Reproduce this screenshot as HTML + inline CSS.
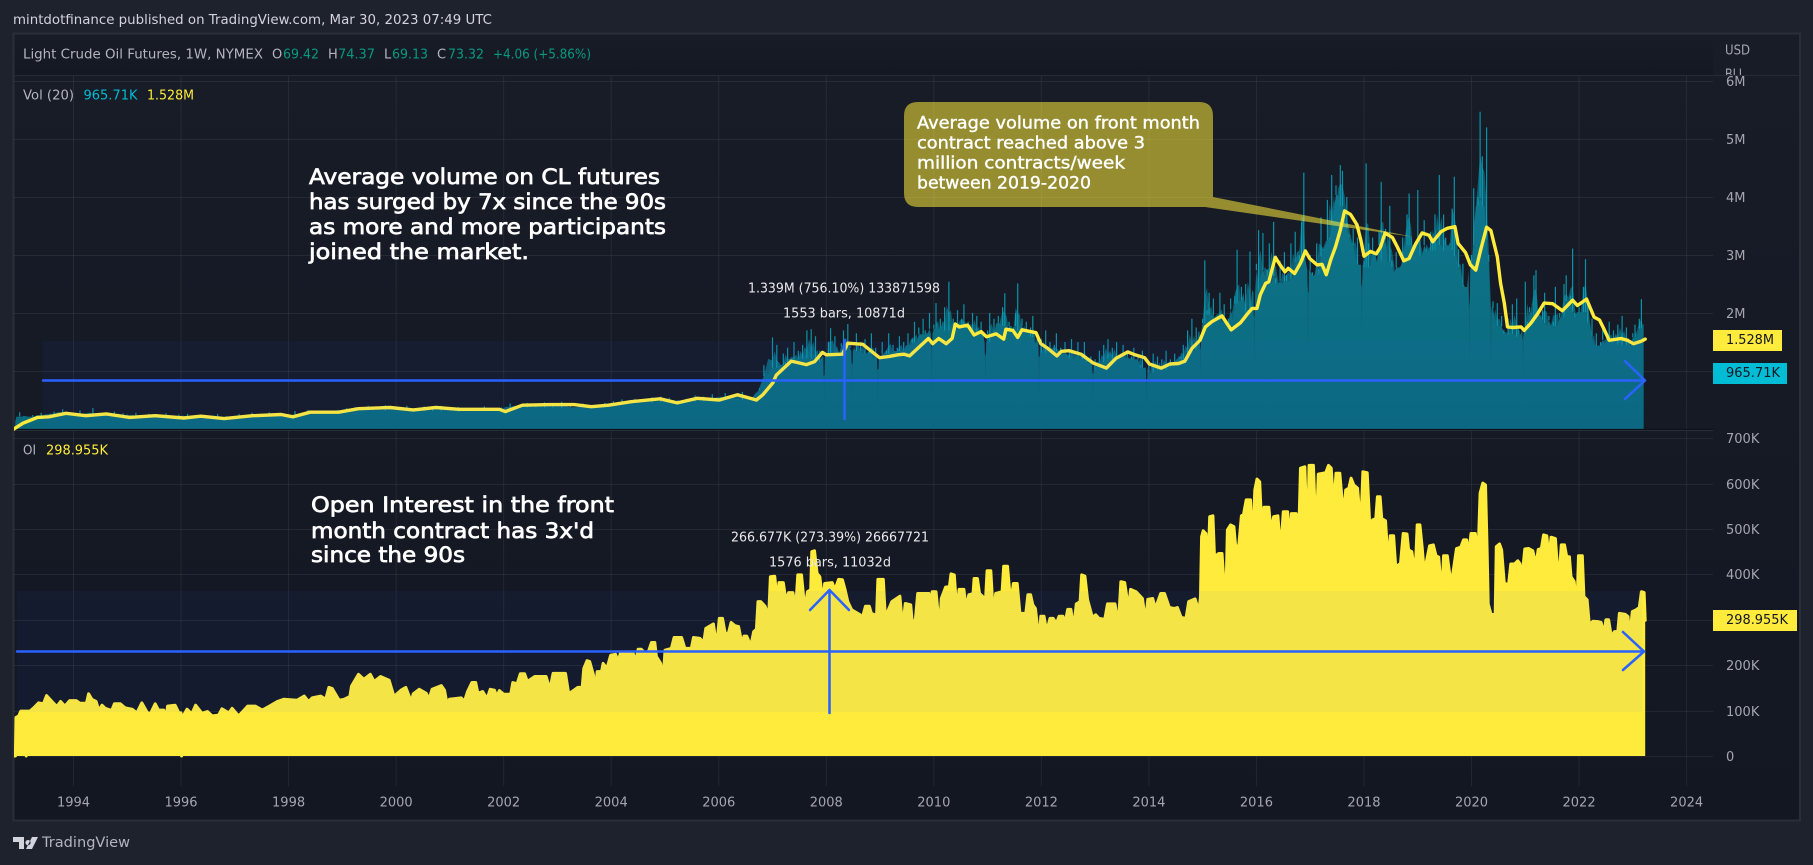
<!DOCTYPE html>
<html lang="en">
<head>
<meta charset="utf-8">
<title>Light Crude Oil Futures volume and open interest</title>
<style>
html,body{margin:0;padding:0;background:#1e222d;width:1813px;height:865px;overflow:hidden}
svg{display:block}
text{font-family:"DejaVu Sans","Liberation Sans",sans-serif;dominant-baseline:central}
.ax{fill:#a3a6af;font-size:13px}
.lg{font-size:13px;fill:#b2b5be}
.an{font-size:21px;fill:#fff;stroke:#fff;stroke-width:.7px}
.cl{font-size:16.5px;fill:#fff;stroke:#fff;stroke-width:.4px}
.ms{font-size:13px;fill:#e8e8ea}
.gr{fill:#089981}
.tag{font-size:13px;fill:#131722}
</style>
</head>
<body>
<svg id="chart" xmlns="http://www.w3.org/2000/svg" width="1813" height="865" viewBox="0 0 1813 865">
<defs>
<linearGradient id="paneBg" x1="0" y1="0" x2="0" y2="1"><stop offset="0" stop-color="#181c27"/><stop offset="1" stop-color="#131722"/></linearGradient>
<linearGradient id="topBg" x1="0" y1="0" x2="0" y2="1"><stop offset="0" stop-color="#181c27"/><stop offset="1" stop-color="#141823"/></linearGradient>
<linearGradient id="volFill" gradientUnits="userSpaceOnUse" x1="0" y1="110" x2="0" y2="429"><stop offset="0" stop-color="#0e7f97"/><stop offset="0.5" stop-color="#0d7186"/><stop offset="1" stop-color="#0b697c"/></linearGradient>
<clipPath id="bllClip"><rect x="1713" y="33" width="87" height="42"/></clipPath>
<clipPath id="plotClip"><rect x="14" y="75" width="1699" height="711"/></clipPath>
</defs>

<rect x="0" y="0" width="1813" height="865" fill="#1e222d"/>
<text x="13" y="20" font-size="13.5" fill="#d1d4dc" textLength="479" lengthAdjust="spacingAndGlyphs">mintdotfinance published on TradingView.com, Mar 30, 2023 07:49 UTC</text>
<rect x="13.5" y="33.5" width="1786.5" height="787" fill="url(#paneBg)" stroke="#2a2e39" stroke-width="2"/>
<rect x="14.5" y="34.5" width="1698.5" height="40.5" fill="url(#topBg)"/>
<line x1="14" y1="75.5" x2="1800" y2="75.5" stroke="#262a35" stroke-width="1"/>

<g id="gridLayer"></g>
<g id="seriesLayer" clip-path="url(#plotClip)"></g>

<rect x="43" y="341" width="1600" height="88" fill="#2962ff" fill-opacity="0.05"/>
<rect x="17" y="591" width="1625" height="121" fill="#2962ff" fill-opacity="0.05"/>

<g stroke="#2962ff" stroke-width="2.5" fill="none" stroke-linecap="round" stroke-linejoin="round">
<line x1="43" y1="380.5" x2="1644" y2="380.5"/>
<line x1="844.5" y1="340" x2="844.5" y2="419"/>
<polyline points="1625,361 1645,380.5 1625,399"/>
</g>
<g stroke="#2962ff" stroke-width="2.5" fill="none" stroke-linecap="round" stroke-linejoin="round">
<line x1="17" y1="651.5" x2="1644" y2="651.5"/>
<line x1="829.5" y1="590" x2="829.5" y2="713"/>
<polyline points="1623,632 1644,651.5 1623,670"/>
<polyline points="810,610 829.5,590 849,610"/>
</g>

<text class="ms" x="748" y="289" textLength="192" lengthAdjust="spacingAndGlyphs">1.339M (756.10%) 133871598</text>
<text class="ms" x="783" y="314" textLength="122" lengthAdjust="spacingAndGlyphs">1553 bars, 10871d</text>
<text class="ms" x="731" y="538" textLength="198" lengthAdjust="spacingAndGlyphs">266.677K (273.39%) 26667721</text>
<text class="ms" x="769" y="563" textLength="122" lengthAdjust="spacingAndGlyphs">1576 bars, 11032d</text>

<g>
<text class="an" x="309" y="177" textLength="351" lengthAdjust="spacingAndGlyphs">Average volume on CL futures</text>
<text class="an" x="309" y="202" textLength="357" lengthAdjust="spacingAndGlyphs">has surged by 7x since the 90s</text>
<text class="an" x="309" y="227" textLength="357" lengthAdjust="spacingAndGlyphs">as more and more participants</text>
<text class="an" x="309" y="252" textLength="220" lengthAdjust="spacingAndGlyphs">joined the market.</text>
</g>
<g>
<text class="an" x="311" y="505" textLength="303" lengthAdjust="spacingAndGlyphs">Open Interest in the front</text>
<text class="an" x="311" y="531" textLength="283" lengthAdjust="spacingAndGlyphs">month contract has 3x'd</text>
<text class="an" x="311" y="555" textLength="154" lengthAdjust="spacingAndGlyphs">since the 90s</text>
</g>

<g>
<path d="M918 102H1199Q1213 102 1213 116V197L1414 237L1205 207H918Q904 207 904 193V116Q904 102 918 102Z" fill="#ffeb3b" fill-opacity="0.55"/>
<text class="cl" x="917" y="123" textLength="283" lengthAdjust="spacingAndGlyphs">Average volume on front month</text>
<text class="cl" x="917" y="143" textLength="228" lengthAdjust="spacingAndGlyphs">contract reached above 3</text>
<text class="cl" x="917" y="163" textLength="208" lengthAdjust="spacingAndGlyphs">million contracts/week</text>
<text class="cl" x="917" y="183" textLength="174" lengthAdjust="spacingAndGlyphs">between 2019-2020</text>
</g>

<g>
<text class="lg" x="23" y="55" textLength="240" lengthAdjust="spacingAndGlyphs">Light Crude Oil Futures, 1W, NYMEX</text>
<text class="lg" x="272" y="55">O</text><text class="lg gr" x="283" y="55" textLength="36" lengthAdjust="spacingAndGlyphs">69.42</text>
<text class="lg" x="328" y="55">H</text><text class="lg gr" x="338" y="55" textLength="37" lengthAdjust="spacingAndGlyphs">74.37</text>
<text class="lg" x="384" y="55">L</text><text class="lg gr" x="392" y="55" textLength="36" lengthAdjust="spacingAndGlyphs">69.13</text>
<text class="lg" x="437" y="55">C</text><text class="lg gr" x="448" y="55" textLength="36" lengthAdjust="spacingAndGlyphs">73.32</text>
<text class="lg gr" x="493" y="55" textLength="98" lengthAdjust="spacingAndGlyphs">+4.06 (+5.86%)</text>
</g>
<g>
<text class="lg" x="23" y="96" textLength="51" lengthAdjust="spacingAndGlyphs">Vol (20)</text>
<text class="lg" style="fill:#00bcd4" x="83.5" y="96" textLength="54" lengthAdjust="spacingAndGlyphs">965.71K</text>
<text class="lg" style="fill:#ffeb3b" x="147" y="96" textLength="47" lengthAdjust="spacingAndGlyphs">1.528M</text>
</g>
<g>
<text class="lg" x="23" y="451" textLength="13" lengthAdjust="spacingAndGlyphs">OI</text>
<text class="lg" style="fill:#ffeb3b" x="46" y="451" textLength="62" lengthAdjust="spacingAndGlyphs">298.955K</text>
</g>

<g>
<text class="ax" x="1725" y="51" textLength="25" lengthAdjust="spacingAndGlyphs">USD</text>
<text class="ax" x="1725" y="75" textLength="20" lengthAdjust="spacingAndGlyphs" clip-path="url(#bllClip)">BLL</text>
</g>
<g id="axisLayer"></g>

<rect x="1713" y="330" width="69" height="21" fill="#ffeb3b"/>
<text class="tag" x="1726" y="340.5" textLength="48" lengthAdjust="spacingAndGlyphs">1.528M</text>
<rect x="1713" y="363" width="74" height="21" fill="#00bcd4"/>
<text class="tag" x="1726" y="373.5" textLength="54" lengthAdjust="spacingAndGlyphs">965.71K</text>
<rect x="1713" y="610" width="84" height="21" fill="#ffeb3b"/>
<text class="tag" x="1726" y="620.5" textLength="62" lengthAdjust="spacingAndGlyphs">298.955K</text>

<g>
<path d="M13 837H24V849H19V842H13ZM28 840a2.6 2.6 0 1 0 .01 0ZM32 837H38L32 849H26Z" fill="#d1d4dc"/>
<text x="42" y="843" font-size="14" fill="#b2b5be" textLength="88" lengthAdjust="spacingAndGlyphs">TradingView</text>
</g>
</svg>

<script>
const yearTicks = [1994,1996,1998,2000,2002,2004,2006,2008,2010,2012,2014,2016,2018,2020,2022,2024];
const volGridValues = [1000000,2000000,3000000,4000000,5000000,6000000];
const volTickLabels = ["","2M","3M","4M","5M","6M"];
const oiGridValues = [0,100000,200000,300000,400000,500000,600000,700000];
const oiTickLabels = ["0","100K","200K","300K","400K","500K","600K","700K"];

/* raw volume, in hundredths of a million contracts */
const volUnit = 10000;
const volEarlyStart = 1992.92;
const volEarlyStep = 0.08;
const volEarlyValues = [8,
29,22,18,24,20,28,22,26,30,24,34,26,28,24,32,22,26,36,20,25,28,24,30,22,27,
25,20,28,18,23,26,17,24,21,27,16,22,25,19,26,15,21,24,18,23,20,26,16,22,19,
21,26,17,23,28,19,25,22,29,20,24,27,18,23,31,21,26,33,22,28,31,24,30,26,33,
28,36,30,38,27,34,40,29,36,31,41,33,37,27,35,40,25,34,31,39,29,36,32,40,28,
35,31,38,28,34,26,36,32,39,24,33,30,37,34,44,36,41,33,45,38,42,34,46,36,43,
38,47,35,42,31,39,44,36,41,29,38,45,40,48,37,51,42,47,52,41,50,44,55,46,56,
47,54,41,50,38,52,45,58,49,56,44,60,50,55,62,48,58,52,64,45,53,38,70,110,95];
const volMidStart = 2007;
const volMidStep = 0.04;
const volMidValues = [
158,100,145,110,90,130,115,140,105,120,150,100,135,125,145,110,170,125,172,120,160,115,135,100,44,
130,150,174,125,160,135,110,148,170,120,181,145,50,140,165,120,150,130,155,105,135,165,115,140,44,
125,150,110,135,165,130,145,105,140,160,125,150,120,165,135,155,185,130,175,125,190,170,130,200,53,
180,217,150,190,160,210,175,254,170,190,145,205,165,190,215,150,185,160,200,170,195,150,185,140,70,
170,200,155,190,145,195,165,210,234,160,185,140,175,200,251,150,190,160,185,145,175,195,130,165,59,
155,135,170,110,150,120,145,165,105,140,120,150,95,135,155,110,125,150,100,130,150,120,105,125,47,
120,95,135,105,145,120,155,110,140,125,150,100,130,145,115,135,105,125,140,95,125,110,135,90,36,
115,90,130,100,125,85,120,105,135,90,120,100,130,110,125];
const volLateStart = 2014.6;
const volLateStep = 0.04;
const volLateValues = [
125,145,115,170,130,190,120,175,140,87,
190,291,205,235,175,225,165,195,235,170,215,125,190,225,165,230,309,195,245,185,250,205,306,195,102,
285,343,245,338,225,275,320,240,357,260,225,290,215,305,265,230,320,250,340,270,300,357,442,285,125,
300,270,210,320,275,365,310,260,395,330,438,340,420,370,455,445,360,400,335,310,345,295,330,280,165,
290,458,320,280,330,270,225,340,426,300,345,275,385,290,250,305,205,280,330,290,370,406,330,300,255,
412,330,230,360,310,285,340,320,370,300,438,290,370,330,270,320,380,435,290,310,255,285,210,240,113,
300,415,330,400,547,470,340,520,300,113,220,185,217,160,195,170,140,190,165,215,150,225,170,135,90,
254,185,210,170,265,274,190,160,205,235,175,195,160,185,245,155,200,170,250,265,185,230,311,200,128,
210,175,245,293,220,150,190,130,165,110,150,175,125,160,185,135,170,145,180,150,195,140,175,150,87,
165,180,140,190,224,150];

/* 20-period volume average, in millions */
const maYears = [1992.89,1993.06,1993.33,1993.54,1993.86,1994.23,1994.61,1995.04,1995.52,1996.05,1996.37,1996.8,1997.33,1997.86,1998.08,1998.4,1998.93,1999.3,1999.89,2000.32,2000.74,2001.17,2001.92,2002.03,2002.35,2002.88,2003.31,2003.63,2003.95,2004.37,2004.91,2005.23,2005.6,2006.01,2006.35,2006.7,2006.82,2007.01,2007.07,2007.35,2007.63,2007.78,2007.93,2008,2008.3,2008.4,2008.68,2008.99,2009.17,2009.33,2009.45,2009.55,2009.7,2009.9,2009.98,2010.09,2010.23,2010.34,2010.4,2010.47,2010.63,2010.75,2010.88,2010.98,2011.16,2011.3,2011.34,2011.47,2011.56,2011.64,2011.9,2011.99,2012.12,2012.29,2012.37,2012.52,2012.74,2012.96,2013.21,2013.39,2013.61,2013.74,2013.92,2014.01,2014.23,2014.39,2014.55,2014.67,2014.8,2014.95,2015.05,2015.17,2015.36,2015.53,2015.7,2015.82,2015.92,2016.01,2016.07,2016.17,2016.23,2016.35,2016.44,2016.53,2016.59,2016.71,2016.82,2016.91,2016.99,2017.13,2017.22,2017.3,2017.38,2017.47,2017.56,2017.64,2017.75,2017.87,2017.94,2018,2018.12,2018.23,2018.31,2018.39,2018.53,2018.62,2018.74,2018.84,2018.96,2019.08,2019.21,2019.28,2019.43,2019.55,2019.69,2019.75,2019.89,2019.98,2020.08,2020.17,2020.28,2020.36,2020.48,2020.54,2020.61,2020.67,2020.76,2020.92,2020.98,2021.1,2021.23,2021.35,2021.51,2021.69,2021.88,2021.97,2022.14,2022.28,2022.38,2022.47,2022.56,2022.78,2022.9,2023.01,2023.15,2023.23];
const maValues = [0,.1,.2,.21,.27,.23,.26,.2,.23,.19,.22,.18,.23,.25,.21,.29,.29,.35,.37,.33,.37,.34,.34,.3,.41,.42,.42,.385,.41,.47,.52,.45,.53,.5,.59,.5,.59,.8,.93,1.17,1.11,1.16,1.32,1.28,1.29,1.48,1.46,1.23,1.25,1.28,1.29,1.26,1.39,1.56,1.47,1.56,1.47,1.56,1.81,1.76,1.79,1.62,1.68,1.59,1.64,1.55,1.72,1.7,1.58,1.71,1.66,1.47,1.39,1.26,1.34,1.35,1.29,1.14,1.05,1.22,1.33,1.28,1.23,1.12,1.05,1.12,1.13,1.17,1.39,1.53,1.76,1.85,1.95,1.71,1.83,1.97,2.08,2.08,2.31,2.51,2.54,2.96,2.83,2.71,2.77,2.68,2.86,3.07,2.94,2.83,2.84,2.66,2.91,3.14,3.43,3.76,3.7,3.52,3.26,2.98,3.06,3.02,3.14,3.38,3.3,3.14,2.9,2.94,3.19,3.38,3.34,3.23,3.4,3.46,3.49,3.2,3.04,2.83,2.74,3.09,3.48,3.42,2.97,2.51,2.17,1.76,1.75,1.76,1.7,1.82,1.99,2.17,2.16,2.04,2.22,2.13,2.24,1.93,1.88,1.71,1.53,1.56,1.53,1.47,1.51,1.55];

/* open interest, in thousands of contracts */
const oiYears = [1992.87,1992.92,1992.93,1992.98,1993.02,1993.11,1993.12,1993.13,1993.19,1993.27,1993.35,1993.44,1993.5,1993.6,1993.69,1993.76,1993.84,1993.93,1994.05,1994.12,1994.24,1994.28,1994.34,1994.42,1994.47,1994.53,1994.59,1994.71,1994.76,1994.87,1994.96,1995.09,1995.18,1995.27,1995.37,1995.43,1995.52,1995.58,1995.68,1995.72,1995.75,1995.89,1995.96,1996,1996.01,1996.04,1996.11,1996.2,1996.27,1996.39,1996.49,1996.58,1996.7,1996.76,1996.89,1996.95,1997.07,1997.24,1997.38,1997.51,1997.63,1997.79,1997.91,1998.16,1998.29,1998.37,1998.44,1998.6,1998.69,1998.75,1998.81,1998.94,1999.03,1999.14,1999.17,1999.3,1999.4,1999.52,1999.59,1999.71,1999.87,1999.96,2000.09,2000.18,2000.28,2000.32,2000.43,2000.56,2000.61,2000.67,2000.84,2000.9,2000.96,2000.99,2001.21,2001.27,2001.33,2001.41,2001.48,2001.52,2001.61,2001.69,2001.75,2001.83,2001.87,2001.92,2002,2002.13,2002.17,2002.25,2002.31,2002.39,2002.44,2002.58,2002.79,2002.86,2002.92,2003.15,2003.21,2003.38,2003.46,2003.49,2003.55,2003.6,2003.67,2003.71,2003.74,2003.82,2003.85,2003.92,2003.99,2004.08,2004.13,2004.17,2004.41,2004.45,2004.5,2004.56,2004.67,2004.75,2004.81,2004.84,2004.92,2004.97,2005,2005.12,2005.17,2005.31,2005.37,2005.49,2005.53,2005.65,2005.72,2005.76,2005.9,2005.96,2006.01,2006.07,2006.12,2006.18,2006.23,2006.3,2006.37,2006.43,2006.47,2006.52,2006.57,2006.61,2006.65,2006.7,2006.73,2006.78,2006.86,2006.93,2006.96,2007.04,2007.09,2007.12,2007.2,2007.25,2007.3,2007.38,2007.43,2007.47,2007.54,2007.6,2007.65,2007.71,2007.73,2007.78,2007.83,2007.88,2007.94,2007.97,2008.11,2008.16,2008.23,2008.3,2008.35,2008.4,2008.47,2008.63,2008.66,2008.73,2008.8,2008.84,2008.9,2008.93,2008.96,2009.06,2009.1,2009.14,2009.22,2009.37,2009.42,2009.47,2009.57,2009.61,2009.66,2009.7,2009.91,2009.93,2009.97,2010.04,2010.11,2010.14,2010.22,2010.29,2010.32,2010.38,2010.43,2010.47,2010.56,2010.6,2010.65,2010.73,2010.75,2010.81,2010.85,2010.91,2010.95,2010.99,2011.06,2011.11,2011.15,2011.27,2011.3,2011.37,2011.43,2011.48,2011.55,2011.6,2011.71,2011.75,2011.8,2011.84,2011.89,2011.96,2011.99,2012.05,2012.1,2012.16,2012.22,2012.28,2012.33,2012.4,2012.44,2012.49,2012.55,2012.6,2012.65,2012.72,2012.75,2012.81,2012.86,2012.95,2013.01,2013.07,2013.18,2013.23,2013.37,2013.43,2013.48,2013.55,2013.62,2013.66,2013.76,2013.88,2013.94,2013.98,2014.07,2014.12,2014.22,2014.29,2014.38,2014.47,2014.53,2014.6,2014.69,2014.74,2014.86,2014.93,2014.96,2014.98,2015.01,2015.06,2015.1,2015.13,2015.19,2015.22,2015.3,2015.36,2015.39,2015.43,2015.46,2015.52,2015.58,2015.61,2015.67,2015.72,2015.76,2015.81,2015.89,2015.93,2015.97,2016.01,2016.06,2016.1,2016.14,2016.23,2016.27,2016.32,2016.4,2016.45,2016.5,2016.58,2016.61,2016.65,2016.74,2016.79,2016.82,2016.9,2016.95,2016.98,2017.06,2017.11,2017.15,2017.29,2017.34,2017.39,2017.44,2017.48,2017.55,2017.62,2017.66,2017.72,2017.76,2017.81,2017.88,2017.94,2017.98,2018.06,2018.11,2018.16,2018.22,2018.25,2018.3,2018.33,2018.4,2018.45,2018.49,2018.55,2018.59,2018.68,2018.73,2018.8,2018.83,2018.89,2018.95,2018.99,2019.04,2019.08,2019.12,2019.16,2019.22,2019.29,2019.34,2019.39,2019.45,2019.48,2019.55,2019.62,2019.67,2019.72,2019.8,2019.85,2019.91,2019.95,2019.99,2020.07,2020.12,2020.16,2020.21,2020.26,2020.29,2020.31,2020.36,2020.44,2020.46,2020.52,2020.56,2020.61,2020.69,2020.73,2020.8,2020.86,2020.9,2020.94,2020.99,2021.06,2021.14,2021.2,2021.24,2021.3,2021.34,2021.4,2021.44,2021.48,2021.56,2021.62,2021.67,2021.73,2021.77,2021.82,2021.85,2021.91,2021.96,2021.99,2022.06,2022.09,2022.15,2022.19,2022.26,2022.35,2022.41,2022.46,2022.5,2022.55,2022.6,2022.66,2022.72,2022.75,2022.86,2022.91,2022.94,2022.99,2023.06,2023.12,2023.16,2023.21,2023.23];
const oiValues = [0,0,85,88,99,99,0,99,99,107,117,115,133,120,109,120,110,122,122,116,116,137,125,120,100,112,105,100,115,115,106,103,95,117,96,93,115,101,101,81,110,112,95,95,0,88,103,93,112,94,98,88,90,104,95,105,88,110,110,101,109,120,125,123,132,120,128,132,125,151,149,123,125,131,154,180,169,180,164,175,167,131,145,151,120,137,147,138,125,147,155,145,107,125,128,120,142,162,162,138,142,126,147,145,131,144,136,136,162,159,181,181,164,175,175,147,182,182,137,151,151,193,210,208,178,144,186,186,204,193,222,224,208,226,226,206,235,235,222,250,250,219,204,173,233,237,261,261,237,237,261,259,250,281,291,241,303,303,270,270,294,287,285,247,264,264,250,250,274,279,340,340,330,308,395,396,340,382,382,340,360,360,323,399,399,323,362,366,450,452,402,395,335,380,382,366,389,388,366,340,322,311,300,330,330,314,311,292,389,389,303,318,340,352,283,336,333,281,303,358,358,286,362,362,278,347,372,373,401,399,316,367,367,325,355,358,391,391,358,351,318,408,408,303,358,362,418,418,336,380,380,314,314,355,355,333,325,252,308,308,274,303,303,292,308,308,292,323,323,281,335,340,399,396,344,305,311,303,301,335,335,288,384,382,325,367,362,347,296,345,347,325,358,358,327,325,327,305,303,340,346,318,351,483,496,490,413,527,529,439,446,446,395,338,498,509,505,465,461,529,532,564,564,461,586,610,604,501,548,548,494,527,529,450,538,538,468,534,534,501,634,637,465,640,640,479,621,624,640,634,546,623,623,527,586,590,612,597,590,505,626,624,501,520,523,571,571,523,518,424,485,485,417,424,490,489,454,450,399,509,509,461,406,428,463,465,441,438,351,441,441,377,416,457,460,476,476,443,490,490,439,579,601,597,454,335,313,311,461,467,454,380,378,423,423,430,424,396,456,457,452,421,455,457,487,485,435,482,479,380,465,465,439,439,395,384,318,441,441,351,344,289,297,296,294,269,300,300,263,274,274,314,312,307,259,318,322,327,362,360,299];

/* axis functions */
function xOfYear(year){ return 73.5 + (year - 1994) * 53.77; }
function yOfVol(value){ return 429 - 58 * value / 1000000; }
function yOfOi(value){ return 756 - 45.4 * value / 100000; }

const NS = 'http://www.w3.org/2000/svg';
function mk(tag, parent){
  const el = document.createElementNS(NS, tag);
  parent.appendChild(el);
  return el;
}
const gridLayer = document.getElementById('gridLayer');
const seriesLayer = document.getElementById('seriesLayer');
const axisLayer = document.getElementById('axisLayer');
const GRID = 'rgba(240,243,250,0.07)';

yearTicks.forEach(function(year){
  const g = mk('line', gridLayer);
  
  
  g.setAttribute('x1', xOfYear(year)); g.setAttribute('x2', xOfYear(year));
  g.setAttribute('y1', 76); g.setAttribute('y2', 786);
  g.setAttribute('stroke', GRID);
  const t = mk('text', axisLayer);
  
  
  t.setAttribute('class', 'ax');
  t.setAttribute('x', xOfYear(year)); t.setAttribute('y', 803);
  t.setAttribute('text-anchor', 'middle');
  t.textContent = String(year);
});

volGridValues.forEach(function(value, i){
  const y = Math.round(yOfVol(value)) + 0.5;
  const g = mk('line', gridLayer);
  
  
  g.setAttribute('x1', 14); g.setAttribute('x2', 1713);
  g.setAttribute('y1', y); g.setAttribute('y2', y);
  g.setAttribute('stroke', GRID);
  if (volTickLabels[i]) {
    const t = mk('text', axisLayer);
    
    
    t.setAttribute('class', 'ax');
    t.setAttribute('x', 1726); t.setAttribute('y', y + 1);
    t.textContent = volTickLabels[i];
  }
});

oiGridValues.forEach(function(value, i){
  const y = Math.round(yOfOi(value)) + 0.5;
  const g = mk('line', gridLayer);
  
  
  g.setAttribute('x1', 14); g.setAttribute('x2', 1713);
  g.setAttribute('y1', y); g.setAttribute('y2', y);
  g.setAttribute('stroke', GRID);
  const t = mk('text', axisLayer);
  
  
  t.setAttribute('class', 'ax');
  t.setAttribute('x', 1726); t.setAttribute('y', y + 1);
  t.textContent = oiTickLabels[i];
});

/* volume: solid body at the running median, thin spikes for the weekly readings */
const volPts = [];
volEarlyValues.forEach(function(v, i){ volPts.push([volEarlyStart + i * volEarlyStep, v * volUnit]); });
volMidValues.forEach(function(v, i){ volPts.push([volMidStart + i * volMidStep, v * volUnit]); });
volLateValues.forEach(function(v, i){ volPts.push([volLateStart + i * volLateStep, v * volUnit]); });

function runningMedian(i){
  const w = [];
  for (let k = Math.max(0, i - 3); k <= Math.min(volPts.length - 1, i + 3); k++) { w.push(volPts[k][1]); }
  w.sort(function(a, b){ return a - b; });
  return w[Math.floor(w.length / 2)];
}
const xVolFirst = xOfYear(volPts[0][0]).toFixed(1);
const xVolLast = xOfYear(volPts[volPts.length - 1][0]).toFixed(1);

const hazePts = volPts.map(function(p, i){
  const a = volPts[Math.max(0, i - 1)][1];
  const b = volPts[Math.min(volPts.length - 1, i + 1)][1];
  return xOfYear(p[0]).toFixed(1) + ',' + yOfVol((a + p[1] + b) / 3).toFixed(1);
}).join(' ');
const volHaze = mk('polygon', seriesLayer);


volHaze.setAttribute('points', xVolFirst + ',429 ' + hazePts + ' ' + xVolLast + ',429');
volHaze.setAttribute('fill', '#0a8ea6');
volHaze.setAttribute('fill-opacity', '0.6');

let spikeD = '';
volPts.forEach(function(p, i){
  const med = runningMedian(i) * 0.96;
  if (p[1] > med) {
    const x = xOfYear(p[0]).toFixed(1);
    spikeD += 'M' + x + ' ' + yOfVol(med).toFixed(1) + 'V' + yOfVol(p[1]).toFixed(1);
  }
});
const volSpikes = mk('path', seriesLayer);


volSpikes.setAttribute('d', spikeD);
volSpikes.setAttribute('fill', 'none');
volSpikes.setAttribute('stroke', '#0aa0b8');
volSpikes.setAttribute('stroke-opacity', '0.9');
volSpikes.setAttribute('stroke-width', '1.2');

const bodyPts = [];
volPts.forEach(function(p, i){
  const med = runningMedian(i) * 0.96;
  const x = xOfYear(p[0]);
  if (p[1] < 0.6 * med) {
    bodyPts.push((x - 0.8).toFixed(1) + ',' + yOfVol(med).toFixed(1));
    bodyPts.push(x.toFixed(1) + ',' + yOfVol(p[1]).toFixed(1));
    bodyPts.push((x + 0.8).toFixed(1) + ',' + yOfVol(med).toFixed(1));
  } else {
    bodyPts.push(x.toFixed(1) + ',' + yOfVol(med).toFixed(1));
  }
});
const volArea = mk('polygon', seriesLayer);


volArea.setAttribute('points', xVolFirst + ',429 ' + bodyPts.join(' ') + ' ' + xVolLast + ',429');
volArea.setAttribute('fill', 'url(#volFill)');

const volBase = mk('line', seriesLayer);


volBase.setAttribute('x1', 14); volBase.setAttribute('x2', 1713);
volBase.setAttribute('y1', 429.5); volBase.setAttribute('y2', 429.5);
volBase.setAttribute('stroke', '#0e1119');
volBase.setAttribute('stroke-width', '1.2');

const paneSep = mk('line', seriesLayer);


paneSep.setAttribute('x1', 14); paneSep.setAttribute('x2', 1713);
paneSep.setAttribute('y1', 430.5); paneSep.setAttribute('y2', 430.5);
paneSep.setAttribute('stroke', '#2a2e39');

const maLine = mk('polyline', seriesLayer);


maLine.setAttribute('points', maYears.map(function(yr, i){ return xOfYear(yr).toFixed(1) + ',' + yOfVol(maValues[i] * 1000000).toFixed(1); }).join(' '));
maLine.setAttribute('fill', 'none');
maLine.setAttribute('stroke', '#ffeb3b');
maLine.setAttribute('stroke-width', '3.4');
maLine.setAttribute('stroke-linejoin', 'round');
maLine.setAttribute('stroke-linecap', 'round');

/* open interest area */
const oiLine = oiYears.map(function(yr, i){ return xOfYear(yr).toFixed(1) + ',' + yOfOi(oiValues[i] * 1000).toFixed(1); }).join(' ');
const oiFirstX = xOfYear(oiYears[0]).toFixed(1);
const oiLastX = xOfYear(oiYears[oiYears.length - 1]).toFixed(1);

const oiArea = mk('polygon', seriesLayer);


oiArea.setAttribute('points', oiFirstX + ',756 ' + oiLine + ' ' + oiLastX + ',756');
oiArea.setAttribute('fill', '#ffeb3b');

const oiStroke = mk('polyline', seriesLayer);


oiStroke.setAttribute('points', oiLine);
oiStroke.setAttribute('fill', 'none');
oiStroke.setAttribute('stroke', '#ffeb3b');
oiStroke.setAttribute('stroke-width', '3');
oiStroke.setAttribute('stroke-linejoin', 'round');
oiStroke.setAttribute('stroke-linecap', 'round');
</script>
</body>
</html>
